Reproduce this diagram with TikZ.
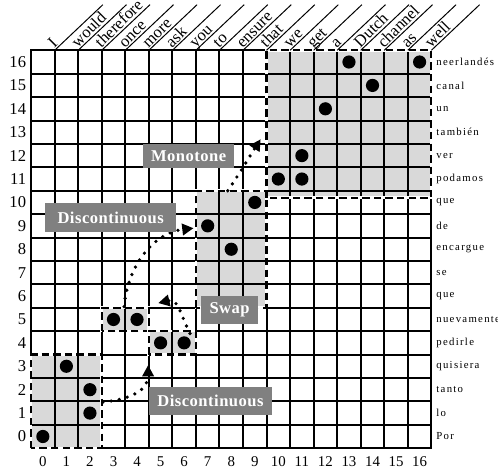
\documentclass[tikz,border=0pt]{standalone}
\usepackage{fontspec}
\setmainfont{Liberation Serif}
\newfontfamily\tagfont[LetterSpace=3]{Liberation Serif}
\newfontfamily\glossfont[LetterSpace=12]{Liberation Serif}
\usetikzlibrary{arrows.meta}
\definecolor{blockgray}{gray}{0.85}
\definecolor{taggray}{gray}{0.5}
\tikzset{
  blockedge/.style={draw=black,line width=1.3pt,dash pattern=on 4.5pt off 2.5pt},
  blockunder/.style={draw=white,line width=1.6pt},
  alignpt/.style={circle,fill=black,inner sep=0pt,minimum size=0.28cm},
  tagbox/.style={fill=taggray,text=white,inner sep=0pt,
    font=\tagfont\bfseries\fontsize{10}{12}\selectfont},
  jumparrow/.style={line width=2.2pt,dash pattern=on 0pt off 5pt,line cap=round,
    -{Triangle[length=2.4mm,width=2.4mm]}},
  srcword/.style={rotate=45,anchor=base west,inner sep=0pt,font=\fontsize{10}{12}\selectfont},
  tgtword/.style={anchor=west,inner sep=0pt,font=\glossfont\fontsize{6.5}{8}\selectfont},
  rownum/.style={anchor=east,inner sep=0pt,font=\fontsize{10}{12}\selectfont},
  colnum/.style={inner sep=0pt,font=\fontsize{9}{11}\selectfont}
}
\begin{document}
\begin{tikzpicture}[x=0.5cm,y=0.497cm]
  \useasboundingbox (-1.32,-0.9) rectangle (19.83,19.15);
  % shaded phrase blocks
  \foreach \xa/\ya/\xb/\yb in {0/0/3/4,3/5/5/6,5/4/7/5,7/6/10/11,10/10.7/17/17}
    \fill[blockgray] (\xa,\ya) rectangle (\xb,\yb);
  \foreach \i in {0,...,17}{
    \draw[line width=1.2pt,line cap=rect] (\i,0) -- (\i,17);
    \draw[line width=1.2pt,line cap=rect] (0,\i) -- (17,\i);
  }
  \foreach \xa/\ya/\xb/\yb in {0/0/3/4,3/5/5/6,5/4/7/5,7/6/10/11,10/10.7/17/17}{
    \draw[blockunder] (\xa,\ya) rectangle (\xb,\yb);
    \draw[blockedge] (\xa,\ya) rectangle (\xb,\yb);
  }
  % alignment points
  \foreach \c/\r [count=\k] in {0/0,1/3,2/2,2/1,3/5,4/5,5/4,6/4,7/9,8/8,9/10,
      10/11,11/11,11/12,12/14,13/16,14/15,16/16}
    \node[alignpt] (p\k) at (\c+0.5,\r+0.5) {};
  % source words (top)
  \foreach \w [count=\i from 0] in {I,would,therefore,once,more,ask,you,to,ensure,
      that,we,get,a,Dutch,channel,as,well}{
    \draw[line width=0.6pt] (\i+1,17) -- ++(2.05,1.95);
    \node[srcword] (s\i) at (\i+0.98,17.08) {\w};
  }
  % target words (right)
  \foreach \w [count=\i from 0] in {Por,lo,tanto,quisiera,pedirle,nuevamente,que,se,
      encargue,de,que,podamos,ver,también,un,canal,neerlandés}
    \node[tgtword] (t\i) at (17.2,\i+0.5) {\w};
  \foreach \i in {0,...,16}{
    \node[rownum] (r\i) at (-0.2,\i+0.5) {\i};
    \node[colnum] (c\i) at (\i+0.5,-0.56) {\i};
  }
  % reordering arrows
  \coordinate (da) at (3.05,1.97);  \coordinate (db) at (4.97,3.55);
  \coordinate (wa) at (6.75,4.9);   \coordinate (wb) at (5.4,6.2);
  \coordinate (ua) at (3.95,6.05);  \coordinate (ub) at (6.9,9.4);
  \coordinate (ma) at (8.35,11.0);  \coordinate (mb) at (9.75,13.2);
  \draw[jumparrow] (da) .. controls (4.3,2.1) and (4.97,2.5) .. (db);
  \draw[jumparrow] (wa) .. controls (6.3,5.8) and (6.25,6.4) .. (wb);
  \draw[jumparrow] (ua) .. controls (4.1,7.8) and (5.2,9.2) .. (ub);
  \draw[jumparrow] (ma) .. controls (8.9,11.8) and (9.3,12.5) .. (mb);
  % operation tags
  \node[tagbox,minimum width=1.93cm,minimum height=0.5cm] (mono) at (6.69,12.48) {Monotone};
  \node[tagbox,minimum width=2.78cm,minimum height=0.62cm] (disca) at (3.38,9.85) {Discontinuous};
  \node[tagbox,minimum width=1.21cm,minimum height=0.59cm] (swap) at (8.43,5.9) {Swap};
  \node[tagbox,minimum width=2.61cm,minimum height=0.59cm] (discb) at (7.62,2.01) {Discontinuous};
\end{tikzpicture}
\end{document}
